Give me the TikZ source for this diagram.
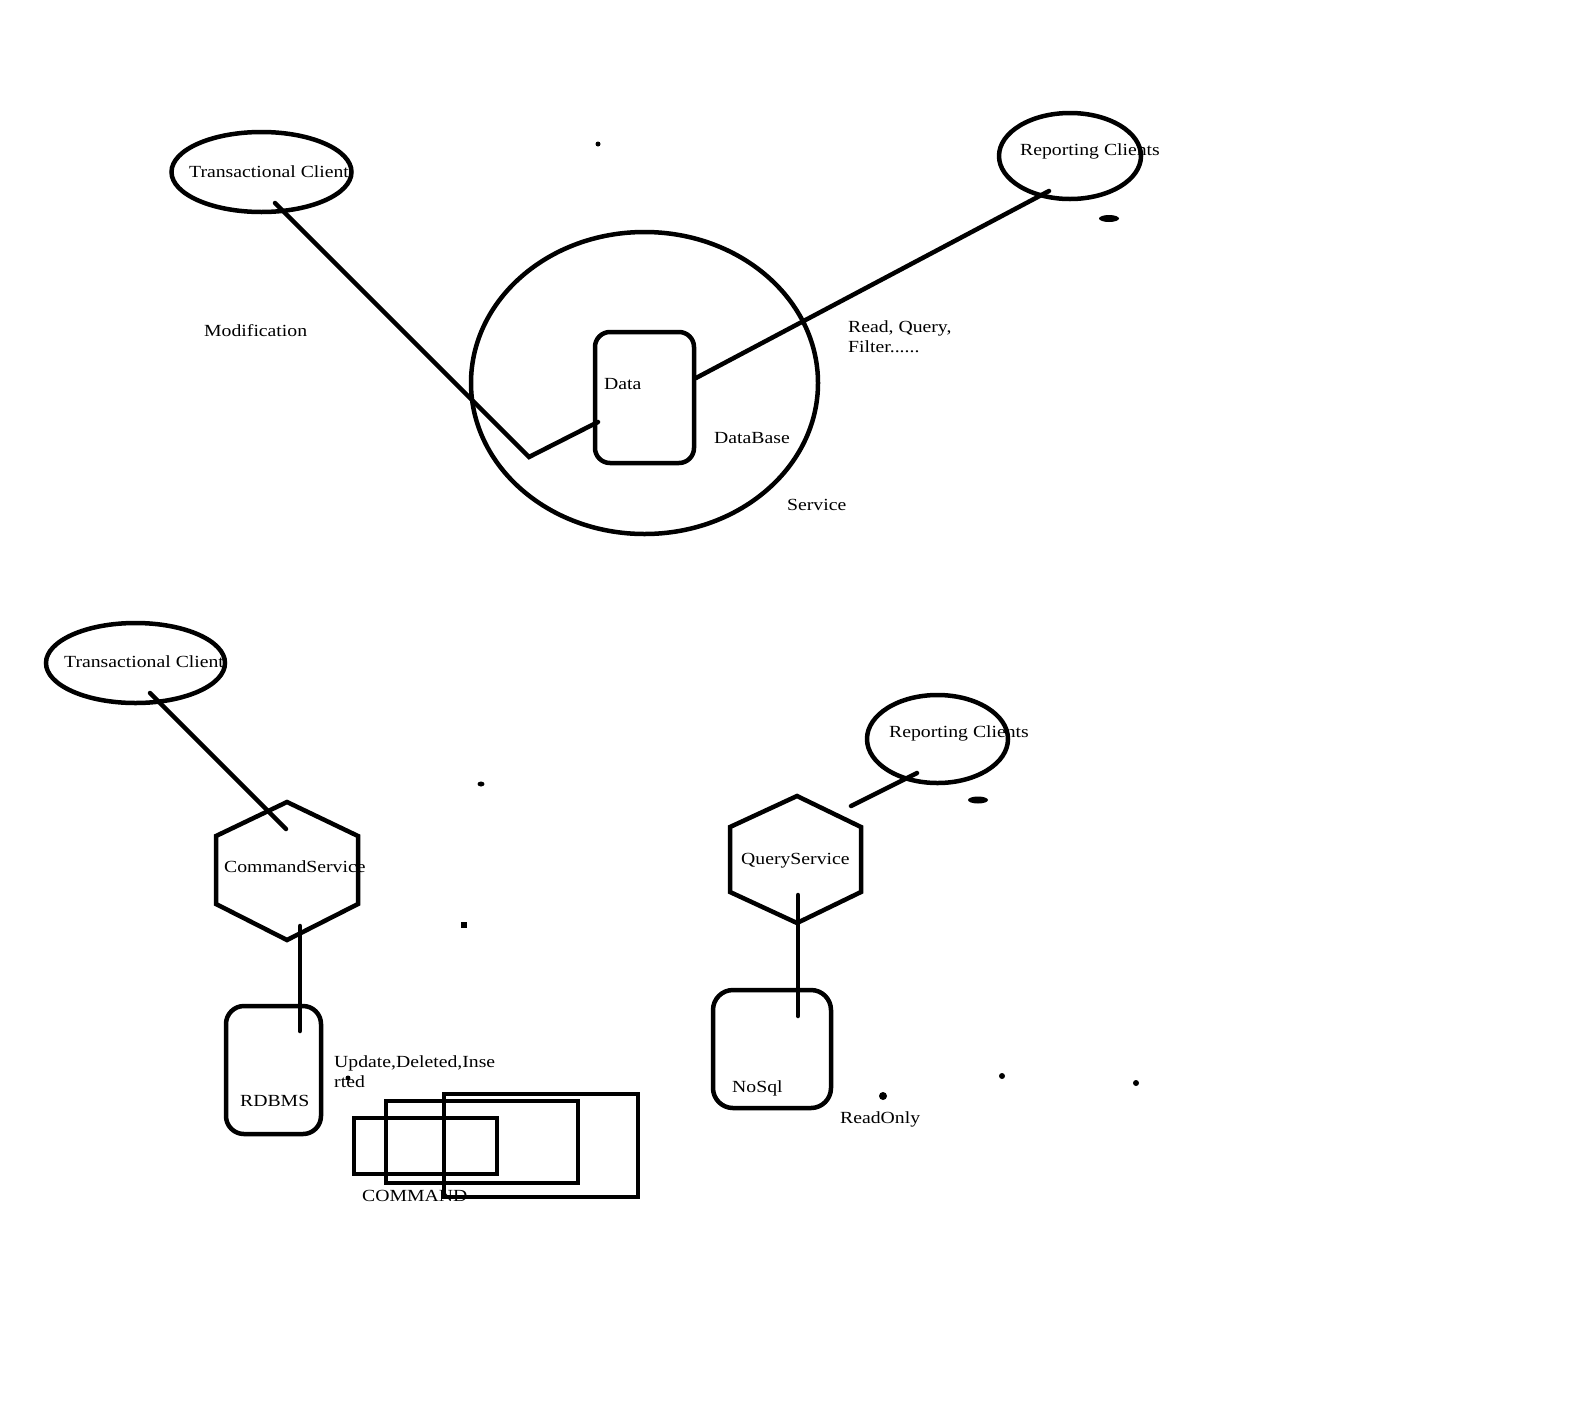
\documentclass[tikz,border=0pt]{standalone}
\usepackage{fontspec}
\setmainfont[FakeStretch=1.16]{Liberation Serif}
\usetikzlibrary{shapes.geometric}
\begin{document}
\begin{tikzpicture}[x=1pt,y=-1pt,
  pen/.style={line width=4.5pt, line cap=round, line join=miter},
  oval/.style={pen, draw, ellipse, inner sep=0pt},
  store/.style={pen, draw, rectangle, inner sep=0pt},
  label/.style={anchor=base west, inner sep=0pt, font=\fontsize{17}{20}\selectfont},
  blob/.style={fill=black, draw=none}]
\useasboundingbox (0,0) rectangle (1571,1403);
\fill[white] (0,0) rectangle (1571,1403);

% ---------- monolithic service ----------
\node[oval, minimum width=347pt, minimum height=302pt] (service) at (644.5,383) {};
\node[store, rounded corners=15pt, minimum width=99pt, minimum height=131pt] (data) at (644.5,397.5) {};
\node[oval, minimum width=180pt, minimum height=80pt] (tc1) at (261.5,172) {};
\node[oval, minimum width=142pt, minimum height=86pt] (rc1) at (1070,156) {};

\coordinate (tc1a) at (275,203);
\coordinate (bend) at (529,457);
\coordinate (datal) at (598,422);
\coordinate (datar) at (696,378);
\coordinate (rc1a) at (1049,191);
\draw[pen] (tc1a) -- (bend) -- (datal);
\draw[pen] (datar) -- (rc1a);

\node[label] (t1) at (189,177) {Transactional Client};
\node[label] (t2) at (1020,155) {Reporting Clients};
\node[label] (t3) at (204,336) {Modification};
\node[label] (t4) at (604,389) {Data};
\node[label] (t5) at (714,443) {DataBase};
\node[label] (t6) at (787,510) {Service};
\node[label] (t7) at (848,332) {Read, Query,};
\node[label] (t8) at (848,352) {Filter......};

\fill[blob] (598,144) circle (2.5);
\fill[blob] (1109,218.5) ellipse (10 and 3.5);

% ---------- command side ----------
\node[oval, minimum width=179pt, minimum height=80pt] (tc2) at (135.5,663) {};
\coordinate (cmd) at (287,871);
\draw[pen, line cap=butt] (287,802) -- (358,836) -- (358,904) -- (287,940) -- (216,904) -- (216,836) -- cycle;
\node[store, rounded corners=18pt, minimum width=95pt, minimum height=128pt] (rdbms) at (273.5,1070) {};

\coordinate (tc2a) at (150,693);
\coordinate (cmdin) at (286,829);
\coordinate (cmdout) at (300,926);
\coordinate (rdbmsin) at (300,1031);
\draw[pen] (tc2a) -- (cmdin);
\draw[pen] (cmdout) -- (rdbmsin);

\node[store, minimum width=143pt, minimum height=56pt] (c1) at (425.5,1146) {};
\node[store, minimum width=192pt, minimum height=82pt] (c2) at (482,1142) {};
\node[store, minimum width=194pt, minimum height=103pt] (c3) at (541,1145.5) {};

\node[label] (t9) at (64,667) {Transactional Client};
\node[label] (t10) at (224,872) {CommandService};
\node[label] (t11) at (240,1106) {RDBMS};
\node[label] (t12) at (334,1067) {Update,Deleted,Inse};
\node[label] (t13) at (334,1087) {rted};
\node[label] (t14) at (362,1201) {COMMAND};

\fill[blob] (348,1078) circle (2.5);
\fill[blob] (481,784) ellipse (3.5 and 2.5);
\fill[blob] (461,922) rectangle (467,928);

% ---------- query side ----------
\node[oval, minimum width=141pt, minimum height=88pt] (rc2) at (937.5,739) {};
\coordinate (qry) at (796.5,859.5);
\draw[pen, line cap=butt] (797,796) -- (861,827) -- (861,892) -- (797,923) -- (730,892) -- (730,827) -- cycle;
\node[store, rounded corners=20pt, minimum width=118pt, minimum height=118pt] (nosql) at (772,1049) {};

\coordinate (qryin) at (851,806);
\coordinate (rc2a) at (917,773);
\coordinate (qryout) at (798,895);
\coordinate (nosqlin) at (798,1016);
\draw[pen] (qryin) -- (rc2a);
\draw[pen] (qryout) -- (nosqlin);

\node[label] (t15) at (889,737) {Reporting Clients};
\node[label] (t16) at (741,864) {QueryService};
\node[label] (t17) at (732,1092) {NoSql};
\node[label] (t18) at (840,1123) {ReadOnly};

\fill[blob] (978,800) ellipse (10 and 3.5);
\fill[blob] (883,1096) circle (4);
\fill[blob] (1002,1076) circle (3);
\fill[blob] (1136,1083) circle (3);
\end{tikzpicture}
\end{document}
